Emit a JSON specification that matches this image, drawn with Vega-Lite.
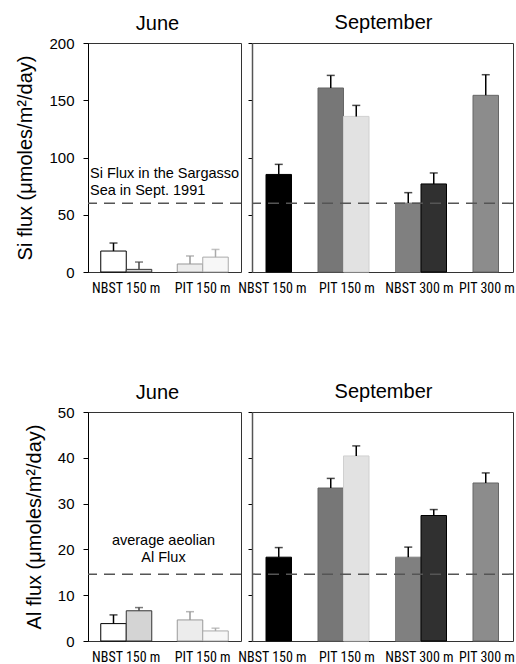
{
  "$schema": "https://vega.github.io/schema/vega-lite/v6.json",
  "padding": {"left": 15, "top": 12, "right": 0, "bottom": 0},
  "background": "white",
  "config": {
    "view": {"stroke": "#333333", "strokeWidth": 1},
    "axis": {"grid": false, "domainColor": "black", "tickColor": "black", "labelColor": "black", "titleColor": "black", "labelFont": "Liberation Sans", "titleFont": "Liberation Sans", "titleFontWeight": "normal"},
    "title": {"font": "Liberation Sans", "fontSize": 20, "fontWeight": "normal", "color": "black", "offset": 10}
  },
  "datasets": {
    "siJune": [
      {"site": "NBST 150 m", "sub": "a", "series": "J1", "flux": 18.3, "err": 25.3},
      {"site": "NBST 150 m", "sub": "b", "series": "J2", "flux": 2.3, "err": 8.7},
      {"site": "PIT 150 m", "sub": "a", "series": "J3", "flux": 7.0, "err": 14.0},
      {"site": "PIT 150 m", "sub": "b", "series": "J4", "flux": 13.0, "err": 19.7}
    ],
    "siSept": [
      {"site": "NBST 150 m", "sub": "b", "series": "S1", "flux": 85.2, "err": 94},
      {"site": "PIT 150 m", "sub": "a", "series": "S2", "flux": 160.7, "err": 171.7},
      {"site": "PIT 150 m", "sub": "b", "series": "S3", "flux": 135.9, "err": 145.5},
      {"site": "NBST 300 m", "sub": "a", "series": "S4", "flux": 60.2, "err": 69.3},
      {"site": "NBST 300 m", "sub": "b", "series": "S5", "flux": 76.9, "err": 86.5},
      {"site": "PIT 300 m", "sub": "a", "series": "S6", "flux": 154.3, "err": 172.3}
    ],
    "alJune": [
      {"site": "NBST 150 m", "sub": "a", "series": "J1", "flux": 3.8, "err": 5.7},
      {"site": "NBST 150 m", "sub": "b", "series": "J2", "flux": 6.6, "err": 7.3},
      {"site": "PIT 150 m", "sub": "a", "series": "J3", "flux": 4.6, "err": 6.4},
      {"site": "PIT 150 m", "sub": "b", "series": "J4", "flux": 2.2, "err": 2.8}
    ],
    "alSept": [
      {"site": "NBST 150 m", "sub": "b", "series": "S1", "flux": 18.3, "err": 20.4},
      {"site": "PIT 150 m", "sub": "a", "series": "S2", "flux": 33.4, "err": 35.5},
      {"site": "PIT 150 m", "sub": "b", "series": "S3", "flux": 40.4, "err": 42.6},
      {"site": "NBST 300 m", "sub": "a", "series": "S4", "flux": 18.3, "err": 20.5},
      {"site": "NBST 300 m", "sub": "b", "series": "S5", "flux": 27.4, "err": 28.7},
      {"site": "PIT 300 m", "sub": "a", "series": "S6", "flux": 34.5, "err": 36.7}
    ]
  },
  "spacing": 85,
  "vconcat": [
    {
      "spacing": 11,
      "bounds": "flush",
      "hconcat": [
        {
          "width": 153, "height": 229,
          "title": {"text": "June", "dx": -7, "offset": 2},
          "layer": [
            {
              "data": {"name": "siJune"},
              "mark": {"type": "bar", "strokeWidth": 1},
              "encoding": {
                "x": {"field": "site", "type": "nominal", "title": null, "scale": {"domain": ["NBST 150 m", "PIT 150 m"], "paddingInner": 0, "paddingOuter": 0}, "axis": {"domain": false, "ticks": false, "labelAngle": 0, "labelPadding": 9, "labelFont": "Roboto Condensed, Liberation Sans", "labelFontSize": 14}},
                "xOffset": {"field": "sub", "type": "nominal", "scale": {"domain": ["a", "b"], "paddingInner": 0, "paddingOuter": 0.5}},
                "y": {"field": "flux", "type": "quantitative", "scale": {"domain": [0, 200], "nice": false}, "axis": {"values": [0, 50, 100, 150, 200], "title": "Si flux (μmoles/m²/day)", "tickSize": 5, "labelPadding": 9, "labelFontSize": 15, "titleFontSize": 20, "titlePadding": 13}},
                "fill": {"field": "series", "type": "nominal", "legend": null, "scale": {"domain": ["J1", "J2", "J3", "J4", "S1", "S2", "S3", "S4", "S5", "S6"], "range": ["#ffffff", "#d4d4d4", "#ececec", "#f7f7f7", "#000000", "#777777", "#e2e2e2", "#808080", "#303030", "#8c8c8c"]}},
                "stroke": {"field": "series", "type": "nominal", "legend": null, "scale": {"domain": ["J1", "J2", "J3", "J4", "S1", "S2", "S3", "S4", "S5", "S6"], "range": ["#000000", "#333333", "#999999", "#aaaaaa", "#000000", "#666666", "#d0d0d0", "#808080", "#000000", "#666666"]}}
              }
            },
            {
              "data": {"name": "siJune"},
              "mark": {"type": "rule", "strokeWidth": 1.5},
              "encoding": {
                "x": {"field": "site", "type": "nominal"},
                "xOffset": {"field": "sub", "type": "nominal"},
                "y": {"field": "flux", "type": "quantitative"},
                "y2": {"field": "err"},
                "color": {"field": "series", "type": "nominal", "legend": null, "scale": {"domain": ["J1", "J2", "J3", "J4", "S1", "S2", "S3", "S4", "S5", "S6"], "range": ["#000000", "#444444", "#999999", "#aaaaaa", "#000000", "#000000", "#000000", "#000000", "#000000", "#000000"]}}
              }
            },
            {
              "data": {"name": "siJune"},
              "mark": {"type": "tick", "size": 8, "thickness": 1.5},
              "encoding": {
                "x": {"field": "site", "type": "nominal"},
                "xOffset": {"field": "sub", "type": "nominal"},
                "y": {"field": "err", "type": "quantitative"},
                "color": {"field": "series", "type": "nominal", "legend": null}
              }
            },
            {
              "data": {"values": [{"ref": 60}]},
              "mark": {"type": "rule", "strokeDash": [11, 7], "color": "#555555", "strokeWidth": 1.5},
              "encoding": {"y": {"field": "ref", "type": "quantitative"}}
            },
            {
              "data": {"values": [{"site": "NBST 150 m", "pos": 85.2, "note": "Si Flux in the Sargasso\nSea in Sept. 1991"}]},
              "mark": {"type": "text", "align": "left", "baseline": "middle", "dx": 2, "lineBreak": "\n", "lineHeight": 17, "font": "Liberation Sans", "fontSize": 14.5, "color": "black"},
              "encoding": {
                "x": {"field": "site", "type": "nominal", "bandPosition": 0},
                "y": {"field": "pos", "type": "quantitative"},
                "text": {"field": "note"}
              }
            }
          ]
        },
        {
          "width": 261, "height": 229,
          "title": {"text": "September", "dx": 1},
          "layer": [
            {
              "data": {"name": "siSept"},
              "mark": {"type": "bar", "strokeWidth": 1},
              "encoding": {
                "x": {"field": "site", "type": "nominal", "title": null, "scale": {"domain": ["NBST 150 m", "PIT 150 m", "NBST 300 m", "PIT 300 m"], "range": [-24.25, 285.75], "paddingInner": 0, "paddingOuter": 0}, "axis": {"domain": false, "ticks": false, "labelAngle": 0, "labelPadding": 9, "labelFont": "Roboto Condensed, Liberation Sans", "labelFontSize": 14, "labelOffset": {"condition": [{"test": "datum.value === 'PIT 300 m'", "value": -12}, {"test": "datum.value === 'NBST 150 m'", "value": 6}, {"test": "datum.value === 'PIT 150 m'", "value": 3}, {"test": "datum.value === 'NBST 300 m'", "value": -2}], "value": 0}}},
                "xOffset": {"field": "sub", "type": "nominal", "scale": {"domain": ["a", "b"], "paddingInner": 0, "paddingOuter": 0.5}},
                "y": {"field": "flux", "type": "quantitative", "scale": {"domain": [0, 200], "nice": false}, "axis": {"values": [0, 50, 100, 150, 200], "title": null, "labels": false, "tickSize": 4, "domainColor": "#555555", "domainWidth": 1.5}},
                "fill": {"field": "series", "type": "nominal", "legend": null, "scale": {"domain": ["J1", "J2", "J3", "J4", "S1", "S2", "S3", "S4", "S5", "S6"], "range": ["#ffffff", "#d4d4d4", "#ececec", "#f7f7f7", "#000000", "#777777", "#e2e2e2", "#808080", "#303030", "#8c8c8c"]}},
                "stroke": {"field": "series", "type": "nominal", "legend": null, "scale": {"domain": ["J1", "J2", "J3", "J4", "S1", "S2", "S3", "S4", "S5", "S6"], "range": ["#000000", "#333333", "#999999", "#aaaaaa", "#000000", "#666666", "#d0d0d0", "#808080", "#000000", "#666666"]}}
              }
            },
            {
              "data": {"name": "siSept"},
              "mark": {"type": "rule", "strokeWidth": 1.5},
              "encoding": {
                "x": {"field": "site", "type": "nominal"},
                "xOffset": {"field": "sub", "type": "nominal"},
                "y": {"field": "flux", "type": "quantitative"},
                "y2": {"field": "err"},
                "color": {"field": "series", "type": "nominal", "legend": null, "scale": {"domain": ["J1", "J2", "J3", "J4", "S1", "S2", "S3", "S4", "S5", "S6"], "range": ["#000000", "#444444", "#999999", "#aaaaaa", "#000000", "#000000", "#000000", "#000000", "#000000", "#000000"]}}
              }
            },
            {
              "data": {"name": "siSept"},
              "mark": {"type": "tick", "size": 8, "thickness": 1.5},
              "encoding": {
                "x": {"field": "site", "type": "nominal"},
                "xOffset": {"field": "sub", "type": "nominal"},
                "y": {"field": "err", "type": "quantitative"},
                "color": {"field": "series", "type": "nominal", "legend": null}
              }
            },
            {
              "data": {"values": [{"ref": 60}]},
              "mark": {"type": "rule", "strokeDash": [11, 7], "color": "#555555", "strokeWidth": 1.5},
              "encoding": {"y": {"field": "ref", "type": "quantitative"}}
            }
          ]
        }
      ]
    },
    {
      "spacing": 11,
      "bounds": "flush",
      "hconcat": [
        {
          "width": 153, "height": 229,
          "title": {"text": "June", "dx": -7, "offset": 2},
          "layer": [
            {
              "data": {"name": "alJune"},
              "mark": {"type": "bar", "strokeWidth": 1},
              "encoding": {
                "x": {"field": "site", "type": "nominal", "title": null, "scale": {"domain": ["NBST 150 m", "PIT 150 m"], "paddingInner": 0, "paddingOuter": 0}, "axis": {"domain": false, "ticks": false, "labelAngle": 0, "labelPadding": 9, "labelFont": "Roboto Condensed, Liberation Sans", "labelFontSize": 14}},
                "xOffset": {"field": "sub", "type": "nominal", "scale": {"domain": ["a", "b"], "paddingInner": 0, "paddingOuter": 0.5}},
                "y": {"field": "flux", "type": "quantitative", "scale": {"domain": [0, 50], "nice": false}, "axis": {"values": [0, 10, 20, 30, 40, 50], "title": "Al flux (μmoles/m²/day)", "tickSize": 5, "labelPadding": 9, "labelFontSize": 15, "titleFontSize": 20, "titlePadding": 13}},
                "fill": {"field": "series", "type": "nominal", "legend": null, "scale": {"domain": ["J1", "J2", "J3", "J4", "S1", "S2", "S3", "S4", "S5", "S6"], "range": ["#ffffff", "#d4d4d4", "#ececec", "#f7f7f7", "#000000", "#777777", "#e2e2e2", "#808080", "#303030", "#8c8c8c"]}},
                "stroke": {"field": "series", "type": "nominal", "legend": null, "scale": {"domain": ["J1", "J2", "J3", "J4", "S1", "S2", "S3", "S4", "S5", "S6"], "range": ["#000000", "#333333", "#999999", "#aaaaaa", "#000000", "#666666", "#d0d0d0", "#808080", "#000000", "#666666"]}}
              }
            },
            {
              "data": {"name": "alJune"},
              "mark": {"type": "rule", "strokeWidth": 1.5},
              "encoding": {
                "x": {"field": "site", "type": "nominal"},
                "xOffset": {"field": "sub", "type": "nominal"},
                "y": {"field": "flux", "type": "quantitative"},
                "y2": {"field": "err"},
                "color": {"field": "series", "type": "nominal", "legend": null, "scale": {"domain": ["J1", "J2", "J3", "J4", "S1", "S2", "S3", "S4", "S5", "S6"], "range": ["#000000", "#444444", "#999999", "#aaaaaa", "#000000", "#000000", "#000000", "#000000", "#000000", "#000000"]}}
              }
            },
            {
              "data": {"name": "alJune"},
              "mark": {"type": "tick", "size": 8, "thickness": 1.5},
              "encoding": {
                "x": {"field": "site", "type": "nominal"},
                "xOffset": {"field": "sub", "type": "nominal"},
                "y": {"field": "err", "type": "quantitative"},
                "color": {"field": "series", "type": "nominal", "legend": null}
              }
            },
            {
              "data": {"values": [{"ref": 14.6}]},
              "mark": {"type": "rule", "strokeDash": [11, 7], "color": "#555555", "strokeWidth": 1.5},
              "encoding": {"y": {"field": "ref", "type": "quantitative"}}
            },
            {
              "data": {"values": [{"site": "PIT 150 m", "pos": 21.9, "note": "average aeolian\nAl Flux"}]},
              "mark": {"type": "text", "align": "center", "baseline": "middle", "dx": -1, "lineBreak": "\n", "lineHeight": 17, "font": "Liberation Sans", "fontSize": 14.5, "color": "black"},
              "encoding": {
                "x": {"field": "site", "type": "nominal", "bandPosition": 0},
                "y": {"field": "pos", "type": "quantitative"},
                "text": {"field": "note"}
              }
            }
          ]
        },
        {
          "width": 261, "height": 229,
          "title": {"text": "September", "dx": 1},
          "layer": [
            {
              "data": {"name": "alSept"},
              "mark": {"type": "bar", "strokeWidth": 1},
              "encoding": {
                "x": {"field": "site", "type": "nominal", "title": null, "scale": {"domain": ["NBST 150 m", "PIT 150 m", "NBST 300 m", "PIT 300 m"], "range": [-24.25, 285.75], "paddingInner": 0, "paddingOuter": 0}, "axis": {"domain": false, "ticks": false, "labelAngle": 0, "labelPadding": 9, "labelFont": "Roboto Condensed, Liberation Sans", "labelFontSize": 14, "labelOffset": {"condition": [{"test": "datum.value === 'PIT 300 m'", "value": -12}, {"test": "datum.value === 'NBST 150 m'", "value": 6}, {"test": "datum.value === 'PIT 150 m'", "value": 3}, {"test": "datum.value === 'NBST 300 m'", "value": -2}], "value": 0}}},
                "xOffset": {"field": "sub", "type": "nominal", "scale": {"domain": ["a", "b"], "paddingInner": 0, "paddingOuter": 0.5}},
                "y": {"field": "flux", "type": "quantitative", "scale": {"domain": [0, 50], "nice": false}, "axis": {"values": [0, 10, 20, 30, 40, 50], "title": null, "labels": false, "tickSize": 4, "domainColor": "#555555", "domainWidth": 1.5}},
                "fill": {"field": "series", "type": "nominal", "legend": null, "scale": {"domain": ["J1", "J2", "J3", "J4", "S1", "S2", "S3", "S4", "S5", "S6"], "range": ["#ffffff", "#d4d4d4", "#ececec", "#f7f7f7", "#000000", "#777777", "#e2e2e2", "#808080", "#303030", "#8c8c8c"]}},
                "stroke": {"field": "series", "type": "nominal", "legend": null, "scale": {"domain": ["J1", "J2", "J3", "J4", "S1", "S2", "S3", "S4", "S5", "S6"], "range": ["#000000", "#333333", "#999999", "#aaaaaa", "#000000", "#666666", "#d0d0d0", "#808080", "#000000", "#666666"]}}
              }
            },
            {
              "data": {"name": "alSept"},
              "mark": {"type": "rule", "strokeWidth": 1.5},
              "encoding": {
                "x": {"field": "site", "type": "nominal"},
                "xOffset": {"field": "sub", "type": "nominal"},
                "y": {"field": "flux", "type": "quantitative"},
                "y2": {"field": "err"},
                "color": {"field": "series", "type": "nominal", "legend": null, "scale": {"domain": ["J1", "J2", "J3", "J4", "S1", "S2", "S3", "S4", "S5", "S6"], "range": ["#000000", "#444444", "#999999", "#aaaaaa", "#000000", "#000000", "#000000", "#000000", "#000000", "#000000"]}}
              }
            },
            {
              "data": {"name": "alSept"},
              "mark": {"type": "tick", "size": 8, "thickness": 1.5},
              "encoding": {
                "x": {"field": "site", "type": "nominal"},
                "xOffset": {"field": "sub", "type": "nominal"},
                "y": {"field": "err", "type": "quantitative"},
                "color": {"field": "series", "type": "nominal", "legend": null}
              }
            },
            {
              "data": {"values": [{"ref": 14.6}]},
              "mark": {"type": "rule", "strokeDash": [11, 7], "color": "#555555", "strokeWidth": 1.5},
              "encoding": {"y": {"field": "ref", "type": "quantitative"}}
            }
          ]
        }
      ]
    }
  ]
}
